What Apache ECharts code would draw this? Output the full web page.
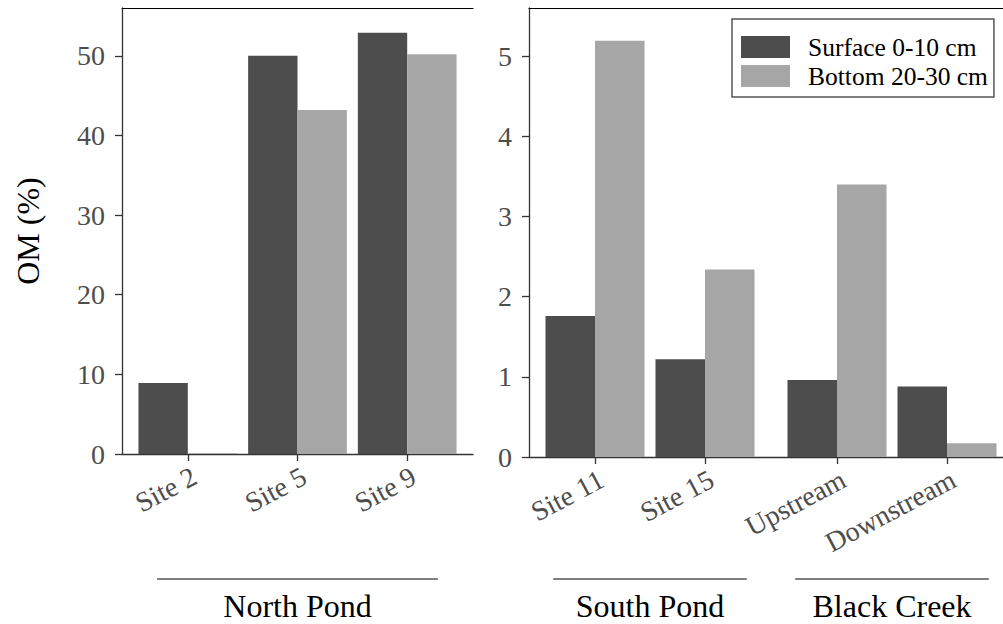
<!DOCTYPE html>
<html>
<head>
<meta charset="utf-8">
<script src="https://cdn.jsdelivr.net/npm/echarts@6/dist/echarts.min.js"></script>
<style>
  html, body { margin: 0; padding: 0; background: #fff; }
  #chart { width: 1003px; height: 624px; }
</style>
</head>
<body>
<div id="chart"></div>
<script>
// sites in each group
var northSites = ['Site 2', 'Site 5', 'Site 9'];
var southSites = ['Site 11', 'Site 15'];
var creekSites = ['Upstream', 'Downstream'];
var groupNames = ['North Pond', 'South Pond', 'Black Creek'];

var seriesNames = ['Surface 0-10 cm', 'Bottom 20-30 cm'];

// OM (%)
var northSurface = [8.9, 50.0, 52.9];
var northBottom = [0.1, 43.2, 50.2];
var southSurface = [1.76, 1.22];
var southBottom = [5.19, 2.34];
var creekSurface = [0.96, 0.88];
var creekBottom = [3.40, 0.17];

// y tick labels of the two panels
var leftTicks = [0, 10, 20, 30, 40, 50];
var rightTicks = [0, 1, 2, 3, 4, 5];

var serif = "'Liberation Serif', 'Times New Roman', serif";
var colors = ['#4D4D4D', '#A6A6A6'];
var GROUP_GAP = 0.2;  // extra space between groups inside one panel
var PAD = 0.6;        // space before first / after last bar group

var panels = [
  {
    groups: [
      { name: groupNames[0], sites: northSites, surface: northSurface, bottom: northBottom }
    ],
    ticks: leftTicks, max: 56,
    grid: { left: 122, top: 8, width: 351, height: 446, outerBoundsMode: 'none' },
    bracketPad: 0.28
  },
  {
    groups: [
      { name: groupNames[1], sites: southSites, surface: southSurface, bottom: southBottom },
      { name: groupNames[2], sites: creekSites, surface: creekSurface, bottom: creekBottom }
    ],
    ticks: rightTicks, max: 5.6,
    grid: { left: 529, top: 8, width: 484, height: 449, outerBoundsMode: 'none' },
    bracketPad: 0.38
  }
];

var grids = [], xAxes = [], yAxes = [], series = [];

panels.forEach(function (p, i) {
  var pos = [], names = [], surf = [], bot = [];
  p.groups.forEach(function (g, gi) {
    g.from = pos.length + gi * GROUP_GAP;
    g.sites.forEach(function (s, si) {
      var x = pos.length + gi * GROUP_GAP;
      pos.push(x);
      names.push(s);
      surf.push([x, g.surface[si]]);
      bot.push([x, g.bottom[si]]);
    });
    g.to = pos[pos.length - 1];
  });
  var xmin = -PAD, xmax = pos[pos.length - 1] + PAD;

  grids.push(p.grid);

  xAxes.push({
    type: 'value', gridIndex: i, position: 'bottom',
    min: xmin, max: xmax,
    splitLine: { show: false },
    axisLine: { show: true, onZero: false, lineStyle: { color: '#333', width: 1.3 } },
    axisTick: { show: true, length: 7, customValues: pos, lineStyle: { color: '#333', width: 1.3 } },
    axisLabel: {
      customValues: pos,
      rotate: 28,
      align: 'right',
      verticalAlign: 'top',
      margin: 8,
      fontFamily: serif, fontSize: 28, color: '#4D4D4D',
      formatter: function (v) {
        for (var k = 0; k < pos.length; k++) {
          if (Math.abs(pos[k] - v) < 1e-6) return names[k];
        }
        return '';
      }
    }
  });
  // top frame line
  xAxes.push({
    type: 'value', gridIndex: i, position: 'top',
    min: xmin, max: xmax,
    splitLine: { show: false },
    axisLine: { show: true, onZero: false, lineStyle: { color: '#000', width: 1 } },
    axisTick: { show: false },
    axisLabel: { show: false }
  });

  yAxes.push({
    type: 'value', gridIndex: i,
    min: 0, max: p.max,
    name: i === 0 ? 'OM (%)' : '',
    nameLocation: 'middle',
    nameGap: 78,
    nameTextStyle: { fontFamily: serif, fontSize: 32, color: '#000' },
    splitLine: { show: false },
    axisLine: { show: true, onZero: false, lineStyle: { color: '#333', width: 1.3 } },
    axisTick: { show: true, length: 7, customValues: p.ticks, lineStyle: { color: '#333', width: 1.3 } },
    axisLabel: {
      customValues: p.ticks,
      margin: 17,
      fontFamily: serif, fontSize: 28, color: '#4D4D4D'
    }
  });

  [surf, bot].forEach(function (d, si) {
    series.push({
      name: seriesNames[si],
      type: 'bar',
      xAxisIndex: 2 * i,
      yAxisIndex: i,
      data: d,
      barGap: '0%',
      barCategoryGap: '10%',
      itemStyle: { color: colors[si] },
      emphasis: { disabled: true }
    });
  });
});

var chart = echarts.init(document.getElementById('chart'), null, { renderer: 'svg' });

var option = {
  animation: false,
  backgroundColor: '#fff',
  grid: grids,
  xAxis: xAxes,
  yAxis: yAxes,
  legend: {
    orient: 'vertical',
    left: 732, top: 19,
    itemWidth: 49, itemHeight: 22, itemGap: 3,
    padding: [15, 6, 8, 9],
    borderColor: '#555', borderWidth: 1.5,
    icon: 'rect',
    selectedMode: false,
    textStyle: { fontFamily: serif, fontSize: 25.5, color: '#000', lineHeight: 26, padding: [0, 0, 0, 13] },
    data: seriesNames
  },
  series: series
};

chart.setOption(option);

// group brackets and labels under the site names
var graphics = [];
panels.forEach(function (p, i) {
  p.groups.forEach(function (g) {
    var x1 = chart.convertToPixel({ xAxisIndex: 2 * i }, g.from - p.bracketPad);
    var x2 = chart.convertToPixel({ xAxisIndex: 2 * i }, g.to + p.bracketPad);
    var xc = chart.convertToPixel({ xAxisIndex: 2 * i }, (g.from + g.to) / 2);
    graphics.push({
      type: 'line',
      shape: { x1: x1, y1: 579, x2: x2, y2: 579 },
      style: { stroke: '#000', lineWidth: 1.2 }
    });
    graphics.push({
      type: 'text',
      x: xc, y: 606,
      style: {
        text: g.name, fontFamily: serif, fontSize: 32, fill: '#000',
        align: 'center', verticalAlign: 'middle'
      }
    });
  });
});
chart.setOption({ graphic: graphics });
</script>
</body>
</html>
